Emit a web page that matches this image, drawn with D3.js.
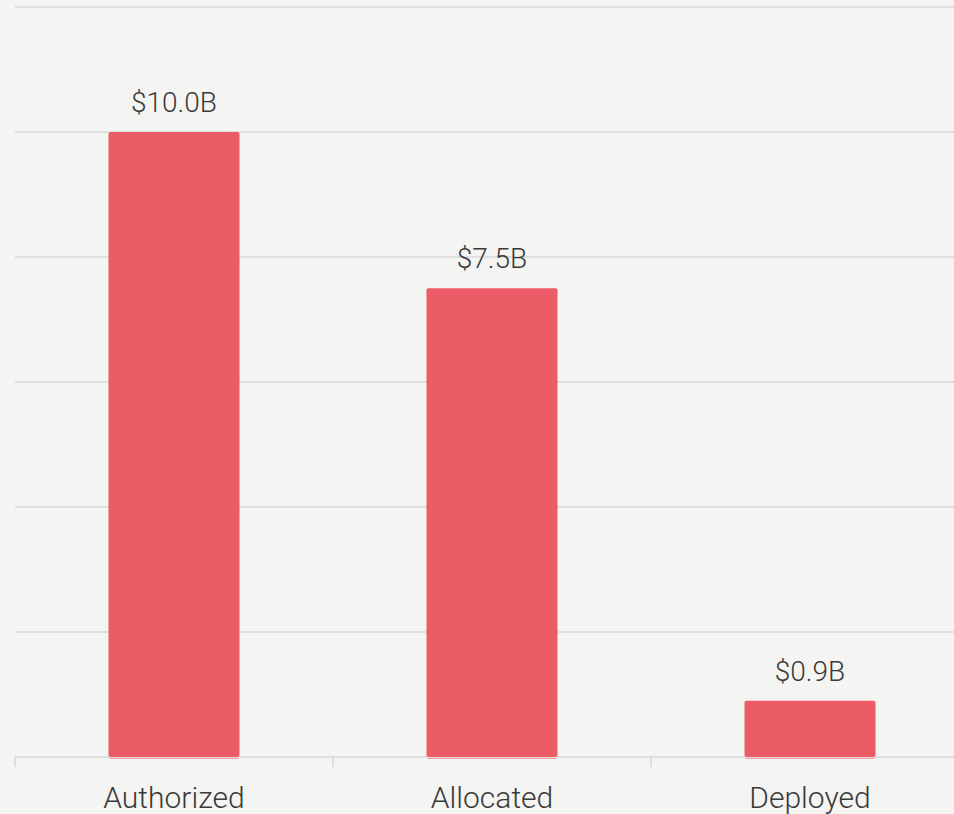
<html>
<head>
<script src="https://d3js.org/d3.v7.min.js"></script>
<style>
  body { margin: 0; background: #f4f4f2; }
  text { font-family: Roboto, sans-serif; font-weight: 300; fill: #3a3a3a; }
</style>
</head>
<body>
<svg width=954 height=814></svg>
<script>
// data
var categories = ["Authorized", "Allocated", "Deployed"];
var values = [10.0, 7.5, 0.9];
var valueLabels = ["$10.0B", "$7.5B", "$0.9B"];
var gridTicks = [0, 2, 4, 6, 8, 10, 12];

var svg = d3.select("svg");
var xLeft = 15, xRight = 969, yBottom = 757, yTop = 7;

svg.append("rect").attr("width", 954).attr("height", 814).attr("fill", "#f4f4f2");

var x = d3.scaleBand()
  .domain(categories)
  .range([xLeft, xRight])
  .paddingInner(0.588)
  .paddingOuter(0.294);

var y = d3.scaleLinear()
  .domain([0, 12])
  .range([yBottom, yTop]);

// gridlines
svg.selectAll(".grid")
  .data(gridTicks)
  .enter()
  .append("line")
    .attr("x1", xLeft)
    .attr("x2", 954)
    .attr("y1", function(d) { return y(d); })
    .attr("y2", function(d) { return y(d); })
    .attr("stroke", "#dfdfdd")
    .attr("stroke-width", 2);

// category tick marks at band boundaries
var step = x.step();
svg.selectAll(".tick")
  .data(categories)
  .enter()
  .append("line")
    .attr("x1", function(d) { return x(d) - x.paddingOuter() * step; })
    .attr("x2", function(d) { return x(d) - x.paddingOuter() * step; })
    .attr("y1", yBottom)
    .attr("y2", yBottom + 10)
    .attr("stroke", "#dfdfdd")
    .attr("stroke-width", 2);

// bars
svg.selectAll(".bar")
  .data(values)
  .enter()
  .append("rect")
    .attr("x", function(d, i) { return x(categories[i]); })
    .attr("y", function(d) { return y(d); })
    .attr("width", x.bandwidth())
    .attr("height", function(d) { return y(0) - y(d); })
    .attr("rx", 2)
    .attr("fill", "#eb5c67");

// light edge under bars
svg.selectAll(".edge")
  .data(values)
  .enter()
  .append("line")
    .attr("x1", function(d, i) { return x(categories[i]) + 1; })
    .attr("x2", function(d, i) { return x(categories[i]) + x.bandwidth() - 1; })
    .attr("y1", yBottom + 1.5)
    .attr("y2", yBottom + 1.5)
    .attr("stroke", "#f2a0a6")
    .attr("stroke-width", 1);

// value labels
svg.selectAll(".val")
  .data(values)
  .enter()
  .append("text")
    .attr("x", function(d, i) { return x(categories[i]) + x.bandwidth() / 2; })
    .attr("y", function(d) { return y(d) - 20; })
    .attr("text-anchor", "middle")
    .style("font-size", "28px")
    .text(function(d, i) { return valueLabels[i]; });

// category labels
svg.selectAll(".cat")
  .data(categories)
  .enter()
  .append("text")
    .attr("x", function(d) { return x(d) + x.bandwidth() / 2; })
    .attr("y", 808)
    .attr("text-anchor", "middle")
    .style("font-size", "30px")
    .text(function(d) { return d; });
</script>
</body>
</html>
